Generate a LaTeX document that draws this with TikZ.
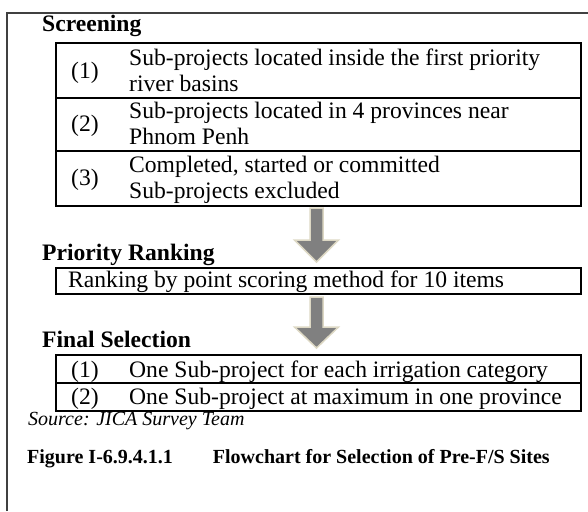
\documentclass[tikz,border=0pt]{standalone}
\usepackage{fontspec}
\setmainfont{Liberation Serif}
\begin{document}
\begin{tikzpicture}[x=1pt,y=-1pt,
  frame/.style={draw=black!75, line width=1.6pt},
  cell/.style={draw=black, line width=1.6pt, inner sep=0pt, anchor=north west},
  body/.style={font=\fontsize{23.6}{26}\selectfont, inner sep=0pt, anchor=base west},
  num/.style={font=\fontsize{23.6}{26}\selectfont, inner sep=0pt, anchor=base},
  head/.style={font=\fontsize{23.6}{26}\selectfont\bfseries, inner sep=0pt, anchor=base west},
  blockarr/.style={fill=black!50, draw={rgb,255:red,221;green,216;blue,196}, line width=1.5pt, line join=miter},
  note/.style={font=\fontsize{20}{24}\selectfont\itshape, inner sep=0pt, anchor=base west},
  caption/.style={font=\fontsize{20}{24}\selectfont\bfseries, inner sep=0pt, anchor=base west}]
\useasboundingbox (0,0) rectangle (588,511);

% outer frame (open to the right and bottom)
\draw[frame] (7,511) -- (7,13) -- (588,13);

% ---- Screening ----
\node[head] (hscr) at (42,32) {Screening};
\node[cell, minimum width=525pt, minimum height=55pt] (s1) at (55,42) {};
\node[cell, minimum width=525pt, minimum height=53pt] (s2) at (55,97) {};
\node[cell, minimum width=525pt, minimum height=55pt] (s3) at (55,150) {};
\node[num] (n1) at (85,78) {(1)};
\node[body] (t1a) at (129,65) {Sub-projects located inside the first priority};
\node[body] (t1b) at (129,91) {river basins};
\node[num] (n2) at (85,131) {(2)};
\node[body] (t2a) at (129,118) {Sub-projects located in 4 provinces near};
\node[body] (t2b) at (129,144) {Phnom Penh};
\node[num] (n3) at (85,185) {(3)};
\node[body] (t3a) at (129,172) {Completed, started or committed};
\node[body] (t3b) at (129,198) {Sub-projects excluded};

% block arrow: shaft from #1 to #2, tip at #3
\newcommand\blockdown[3]{%
  \draw[blockarr] (310,#1) -- (323,#1) -- (323,#2) -- (338.5,#2) -- (316.5,#3)
    -- (294.5,#2) -- (310,#2) -- cycle;}
\blockdown{208}{240}{262}

% ---- Priority Ranking ----
\node[head] (hpri) at (42,260) {Priority Ranking};
\node[cell, minimum width=525pt, minimum height=26pt] (r1) at (55,267) {};
\node[body] (tr) at (68,287) {Ranking by point scoring method for 10 items};

\blockdown{297}{327}{348}

% ---- Final Selection ----
\node[head] (hfin) at (42,347) {Final Selection};
\node[cell, minimum width=525pt, minimum height=28pt] (f1) at (55,354) {};
\node[cell, minimum width=525pt, minimum height=28pt] (f2) at (55,382) {};
\node[num] (m1) at (85,377) {(1)};
\node[body] (u1) at (129,377) {One Sub-project for each irrigation category};
\node[num] (m2) at (85,404) {(2)};
\node[body] (u2) at (129,404) {One Sub-project at maximum in one province};

% ---- source and caption ----
\node[note] (src) at (28,425) {Source: JICA Survey Team};
\node[caption] (cap) at (27,463) {Figure I-6.9.4.1.1\hspace{40pt}Flowchart for Selection of Pre-F/S Sites};
\end{tikzpicture}
\end{document}
